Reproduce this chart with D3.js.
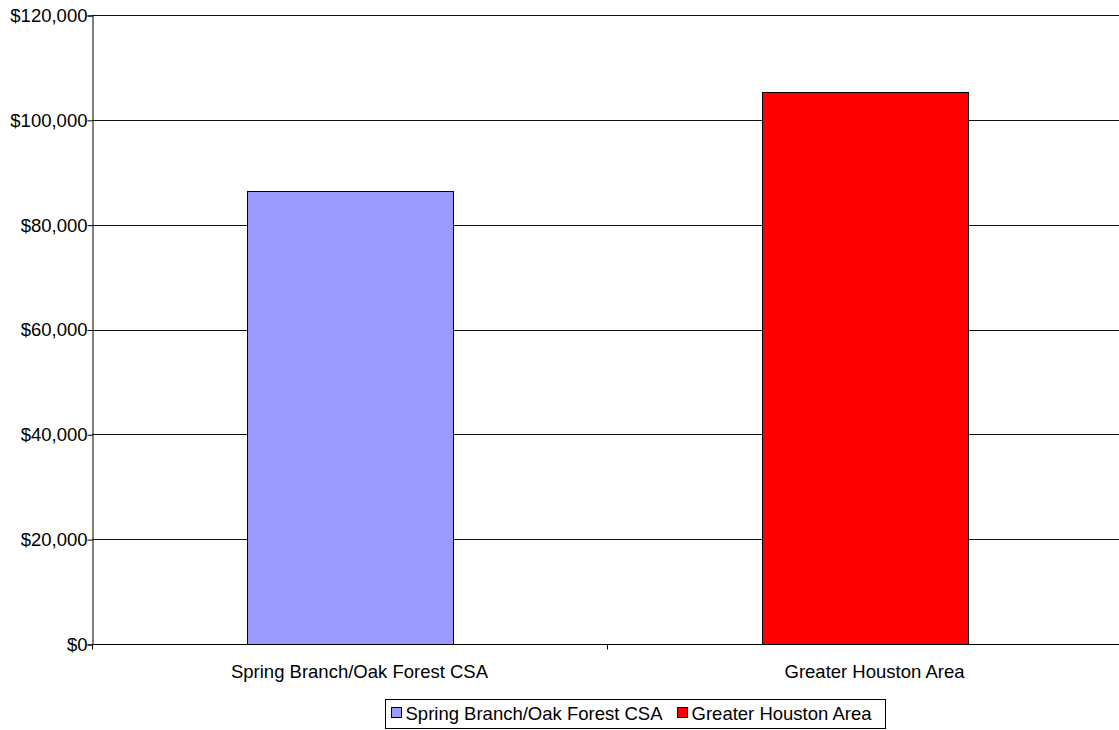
<!DOCTYPE html>
<html>
<head>
<meta charset="utf-8">
<script src="https://cdn.jsdelivr.net/npm/d3@7"></script>
<style>
  html, body { margin: 0; padding: 0; background: #fff; }
  svg { display: block; }
  text { font-family: "Liberation Sans", Arial, sans-serif; fill: #000; }
</style>
</head>
<body>
<svg id="chart" width="1119" height="730"></svg>
<script>
const categories = ["Spring Branch/Oak Forest CSA", "Greater Houston Area"];
const values = [86400, 105300];
const colors = ["#9999FF", "#FF0000"];
const yTicks = [0, 20000, 40000, 60000, 80000, 100000, 120000];

const svg = d3.select("#chart");
const plotLeft = 92, plotRight = 1122, plotTop = 15, plotBottom = 644;
const fontSize = 18.5;

const y = d3.scaleLinear().domain([0, 120000]).range([plotBottom, plotTop]);
const x = d3.scaleBand().domain(categories).range([plotLeft, plotRight]).padding(0);
const fmt = v => "$" + d3.format(",")(v);

// gridlines
svg.append("g").selectAll("line").data(yTicks.filter(d => d > 0)).join("line")
  .attr("x1", plotLeft).attr("x2", 1119)
  .attr("y1", d => Math.round(y(d)) + 0.5).attr("y2", d => Math.round(y(d)) + 0.5)
  .attr("stroke", "#111").attr("stroke-width", 1);

// bars
svg.append("g").selectAll("rect").data(categories).join("rect")
  .attr("x", d => Math.round(x(d) + x.bandwidth() * 0.3) + 0.5)
  .attr("y", (d, i) => Math.round(y(values[i])) + 0.5)
  .attr("width", Math.round(x.bandwidth() * 0.4))
  .attr("height", (d, i) => Math.round(y(0)) - Math.round(y(values[i])))
  .attr("fill", (d, i) => colors[i])
  .attr("stroke", "#000").attr("stroke-width", 1);

// y axis
const yAxis = d3.axisLeft(y).tickValues(yTicks).tickFormat(fmt).tickSize(5).tickPadding(0);
const gy = svg.append("g").attr("transform", `translate(${plotLeft + 0.5},0.5)`).call(yAxis);
gy.select(".domain").attr("stroke", "#000");
gy.selectAll(".tick line").attr("stroke", "#000");
gy.selectAll(".tick text").attr("font-size", fontSize).attr("font-family", "Liberation Sans, Arial, sans-serif").attr("fill", "#000");

// x axis
const gx = svg.append("g").attr("transform", `translate(0,${plotBottom + 0.5})`);
gx.append("line").attr("x1", plotLeft).attr("x2", 1119).attr("stroke", "#000");
const bounds = [plotLeft, plotLeft + x.step(), plotLeft + 2 * x.step()];
gx.selectAll("line.tk").data(bounds).join("line").attr("class", "tk")
  .attr("x1", d => Math.round(d) + 0.5).attr("x2", d => Math.round(d) + 0.5)
  .attr("y1", 0).attr("y2", 5).attr("stroke", "#000");
gx.selectAll("text").data(categories).join("text")
  .attr("x", d => x(d) + x.bandwidth() / 2 + 10)
  .attr("y", 33)
  .attr("text-anchor", "middle")
  .attr("font-size", fontSize)
  .text(d => d);

// legend
const legendX = 385, legendY = 699, legendW = 500, legendH = 29;
const lg = svg.append("g").attr("transform", `translate(${legendX + 0.5},${legendY + 0.5})`);
lg.append("rect").attr("width", legendW).attr("height", legendH)
  .attr("fill", "#fff").attr("stroke", "#000").attr("stroke-width", 1);
const items = lg.selectAll("g.item").data(categories).join("g").attr("class", "item");
items.append("rect").attr("x", 0).attr("y", 8).attr("width", 10).attr("height", 10)
  .attr("fill", (d, i) => colors[i]).attr("stroke", "#000").attr("stroke-width", 1);
items.append("text").attr("x", 14).attr("y", 20).attr("font-size", fontSize).text(d => d);
let cx = 6;
items.each(function() {
  d3.select(this).attr("transform", `translate(${cx},0)`);
  cx += 14 + d3.select(this).select("text").node().getComputedTextLength() + 15;
});
</script>
</body>
</html>
